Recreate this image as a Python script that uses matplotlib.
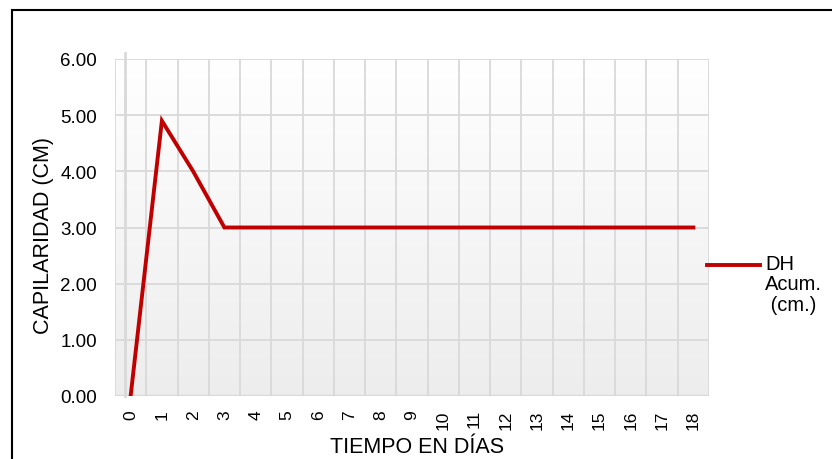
import numpy as np
import matplotlib
matplotlib.use("Agg")
import matplotlib.pyplot as plt
from matplotlib.colors import LinearSegmentedColormap
from matplotlib.patches import Rectangle
from matplotlib.lines import Line2D

plt.rcParams['font.family'] = ['Liberation Sans', 'DejaVu Sans']

days = list(range(19))
dh_acum = [0.0, 4.9, 4.0, 3.0, 3.0, 3.0, 3.0, 3.0, 3.0, 3.0,
           3.0, 3.0, 3.0, 3.0, 3.0, 3.0, 3.0, 3.0, 3.0]
y_ticks = [0, 1, 2, 3, 4, 5, 6]
series_label = "DH\nAcum.\n (cm.)"

W, H = 832, 460
fig = plt.figure(figsize=(W / 100, H / 100), dpi=100)

# outer border
fig.patches.append(Rectangle((12 / W, -0.1), 1.0, 1 - 11 / H + 0.1,
                             transform=fig.transFigure, fill=False,
                             edgecolor='black', linewidth=1.5, zorder=0))

left, right, top, bottom = 115, 709, 60, 397
ax = fig.add_axes([left / W, 1 - bottom / H, (right - left) / W, (bottom - top) / H])

x0, x1 = -0.5, len(days) - 0.5

# gradient background: white at top, light gray at bottom
cmap = LinearSegmentedColormap.from_list('g', ['#ffffff', '#ededed'])
grad = np.linspace(1, 0, 256).reshape(-1, 1)
ax.imshow(grad, extent=[x0, x1, 0, 6], aspect='auto', cmap=cmap, zorder=0,
          origin='lower', vmin=0, vmax=1)
ax.set_xlim(x0, x1)
ax.set_ylim(0, 6)

# gridlines
for yv in y_ticks:
    ax.axhline(yv, color='#d9d9d9', lw=1.3, zorder=1)
for i in range(len(days) + 1):
    ax.axvline(i - 0.5, color='#d9d9d9', lw=1.3, zorder=1)
ax.axhline(0, color='#d9d9d9', lw=2.4, zorder=1)
# y-axis line
ax.plot([-0.19, -0.19], [0, 6.1], color='#d9d9d9', lw=2.0, zorder=1, clip_on=False)

ax.plot(days, dh_acum, color='#C00000', lw=2.8, zorder=3, solid_joinstyle='miter')

for s in ax.spines.values():
    s.set_visible(False)

ax.set_yticks(y_ticks)
ax.set_yticklabels([f"{v:.2f}" for v in y_ticks], fontsize=13.5)
ax.set_xticks(days)
ax.set_xticklabels([str(d) for d in days], rotation=90, fontsize=12.5)
ax.tick_params(axis='both', length=0, colors='#000000')
ax.tick_params(axis='y', pad=13)
ax.tick_params(axis='x', pad=9.5)

ax.set_ylabel("CAPILARIDAD (CM)", fontsize=15.5, va='center', ha='center')
ax.yaxis.set_label_coords((44 - left) / (right - left), (bottom - 235) / (bottom - top))
ax.set_xlabel("TIEMPO EN DÍAS", fontsize=15.5, va='center', ha='center')
ax.xaxis.set_label_coords((417 - left) / (right - left), (bottom - 448) / (bottom - top))

# legend
fig.add_artist(Line2D([707 / W, 760 / W], [1 - 266 / H, 1 - 266 / H],
                      color='#C00000', lw=2.8, transform=fig.transFigure))
fig.text(765 / W, 1 - 255 / H, series_label, fontsize=14.5, va='top', ha='left',
         linespacing=1.1)

fig.savefig("out.png", dpi=100)
